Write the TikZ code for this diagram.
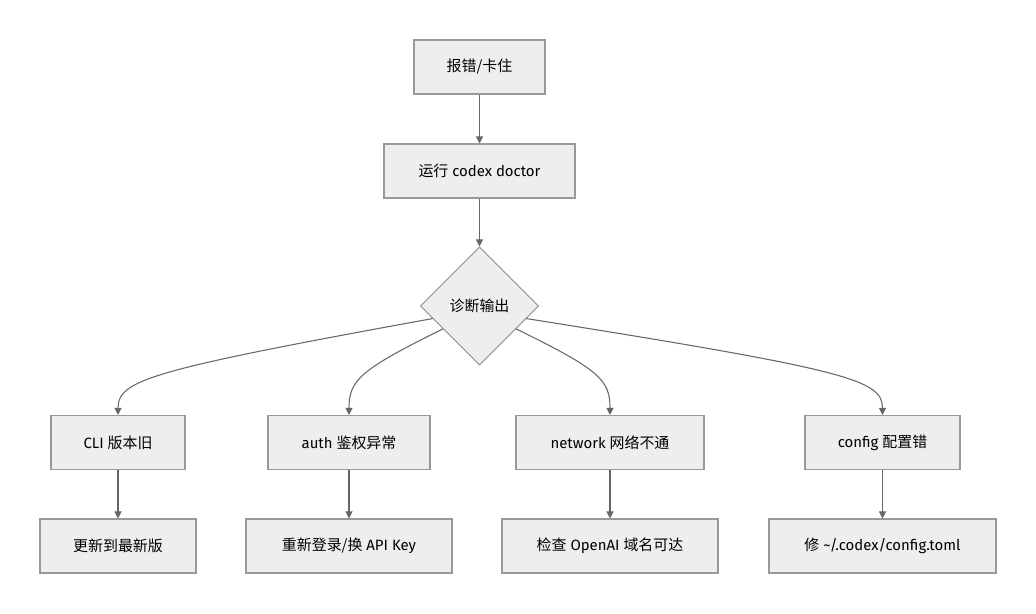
\documentclass[tikz,border=0pt]{standalone}
\usepackage{fontspec}
\setmainfont{Fira Sans}
\newfontfamily\cjk{Noto Sans CJK SC}
\usetikzlibrary{shapes.geometric,arrows.meta}
\definecolor{boxfill}{HTML}{EEEEEE}
\definecolor{boxline}{HTML}{999999}
\definecolor{edge}{HTML}{666666}
\begin{document}
\begin{tikzpicture}[x=0.02cm,y=-0.02cm,
  box/.style={draw=boxline,fill=boxfill,line width=0.6pt,minimum height=1.08cm,inner sep=0pt,font=\fontsize{8.5}{10}\selectfont},
  dia/.style={draw=boxline,fill=boxfill,line width=0.6pt,diamond,aspect=1,minimum size=2.36cm,inner sep=0pt,font=\fontsize{8.5}{10}\selectfont},
  arr/.style={draw=edge,line width=0.6pt,-{Triangle[length=4pt,width=4pt]}}]
\useasboundingbox (0,0) rectangle (1036,614);
\node[box,minimum width=2.62cm] (a) at (479.5,67) {{\cjk 报错/卡住}};
\node[box,minimum width=3.82cm] (b) at (479.5,171) {{\cjk 运行} codex doctor};
\node[dia] (d) at (479.5,306) {{\cjk 诊断输出}};
\node[box,minimum width=2.68cm] (c1) at (118,442.5) {CLI {\cjk 版本旧}};
\node[box,minimum width=3.24cm] (c2) at (349,442.5) {auth {\cjk 鉴权异常}};
\node[box,minimum width=3.76cm] (c3) at (610,442.5) {network {\cjk 网络不通}};
\node[box,minimum width=3.10cm] (c4) at (882.5,442.5) {config {\cjk 配置错}};
\node[box,minimum width=3.12cm] (e1) at (118,546) {{\cjk 更新到最新版}};
\node[box,minimum width=4.12cm] (e2) at (349,546) {{\cjk 重新登录/换} API Key};
\node[box,minimum width=4.32cm] (e3) at (610,546) {{\cjk 检查} OpenAI {\cjk 域名可达}};
\node[box,minimum width=4.54cm] (e4) at (882.5,546) {{\cjk 修} \char`\~/.codex/config.toml};
\draw[arr] (a) -- (b);
\draw[arr] (b) -- (d);
\draw[arr] (d.195) .. controls (150,370) and (118,380) .. (c1.north);
\draw[arr] (d.212) .. controls (360,370) and (349,380) .. (c2.north);
\draw[arr] (d.-32) .. controls (600,370) and (610,380) .. (c3.north);
\draw[arr] (d.-15) .. controls (850,370) and (882.5,380) .. (c4.north);
\draw[arr] (c1) -- (e1);
\draw[arr] (c2) -- (e2);
\draw[arr] (c3) -- (e3);
\draw[arr] (c4) -- (e4);
\end{tikzpicture}
\end{document}
